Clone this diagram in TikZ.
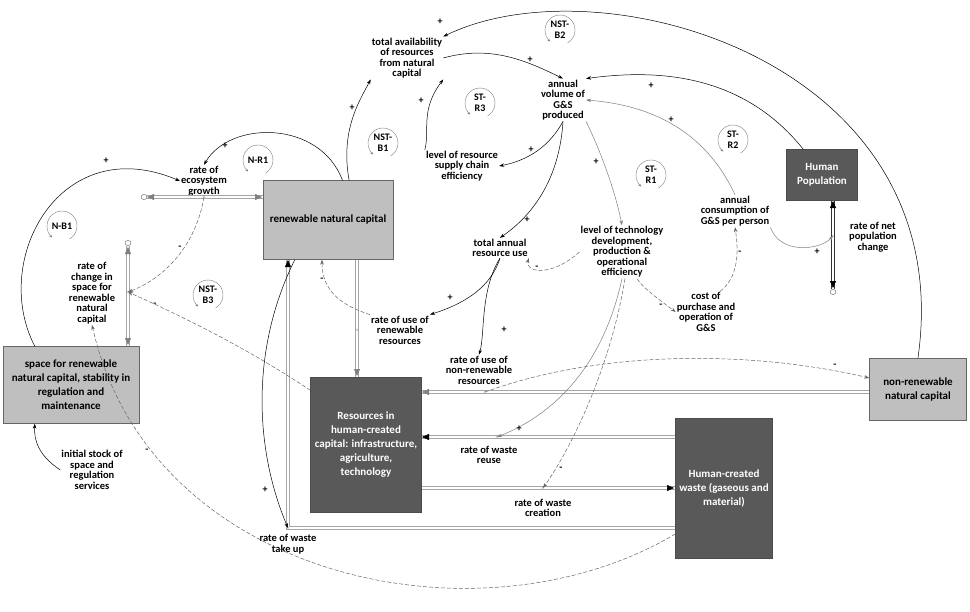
\documentclass[tikz,border=0pt]{standalone}
\usepackage{fontspec}
\setmainfont{Carlito}
\usetikzlibrary{arrows.meta,shapes.geometric}
\begin{document}
\begin{tikzpicture}[x=1pt,y=-1pt,
  var/.style={font=\bfseries\fontsize{10.5}{10.5}\selectfont,align=center,inner sep=1pt},
  lstock/.style={draw=gray!80!black,fill=gray!50,font=\bfseries\fontsize{11}{14}\selectfont,align=center},
  dstock/.style={draw=gray!60!black,fill=black!65,text=white,font=\bfseries\fontsize{11}{14}\selectfont,align=center},
  cl/.style={-{Stealth[length=5pt,width=3.5pt]},line width=0.5pt},
  gl/.style={cl,gray},
  dl/.style={cl,gray!80!black,dash pattern=on 4pt off 2pt},
  flow/.style={draw=gray!70,double=white,double distance=2.2pt,line width=0.6pt},
  gtip/.style={-{Triangle[length=7pt,width=6pt]},draw=gray,fill=gray,line width=0.5pt},
  btip/.style={-{Triangle[length=7pt,width=6pt]},draw=black,line width=0.5pt},
  sg/.style={font=\bfseries\fontsize{10}{10}\selectfont,inner sep=0pt},
  cloud/.style={draw=gray!60!black,ellipse,minimum width=6pt,minimum height=5pt,inner sep=0pt},
  loop/.style={font=\bfseries\fontsize{10}{11}\selectfont,align=center,inner sep=0pt}]
\useasboundingbox (0,0) rectangle (970,611);
\fill[white] (0,0) rectangle (970,611);
% stocks
\node[lstock,minimum width=130pt,minimum height=79pt] (rnc) at (328,220) {renewable natural capital};
\node[lstock,minimum width=136pt,minimum height=77pt] (space) at (71,385) {space for renewable\\natural capital, stability in\\regulation and\\maintenance};
\node[dstock,minimum width=111pt,minimum height=135pt] (res) at (366,445) {Resources in\\human-created\\capital: infrastructure,\\agriculture,\\technology};
\node[dstock,minimum width=97pt,minimum height=140pt] (waste) at (724,488) {Human-created\\waste (gaseous and\\material)};
\node[dstock,minimum width=71pt,minimum height=51pt] (pop) at (822,175) {Human\\Population};
\node[lstock,minimum width=97pt,minimum height=62pt] (nonren) at (918,389) {non-renewable\\natural capital};
% variables
\node[var] (tav) at (407,58) {total availability\\of resources\\from natural\\capital};
\node[var] (vol) at (563,100) {annual\\volume of\\G\&S\\produced};
\node[var] (sup) at (462,166) {level of resource\\supply chain\\efficiency};
\node[var] (eco) at (204,181) {rate of\\ecosystem\\growth};
\node[var] (chg) at (92,293) {rate of\\change in\\space for\\renewable\\natural\\capital};
\node[var] (tuse) at (500,248) {total annual\\resource use};
\node[var] (tech) at (622,252) {level of technology\\development,\\production \&\\operational\\efficiency};
\node[var] (cons) at (735,211) {annual\\consumption of\\G\&S per person};
\node[var] (npop) at (873,237) {rate of net\\population\\change};
\node[var] (cost) at (706,312) {cost of\\purchase and\\operation of\\G\&S};
\node[var] (ruse) at (400,330) {rate of use of\\renewable\\resources};
\node[var] (rnon) at (479,370) {rate of use of\\non-renewable\\resources};
\node[var] (wreu) at (489,455) {rate of waste\\reuse};
\node[var] (wcre) at (543,508) {rate of waste\\creation};
\node[var] (wtak) at (288,544) {rate of waste\\take up};
\node[var] (init) at (92,470) {initial stock of\\space and\\regulation\\services};
% loop markers
\foreach \n/\x/\y/\t in {lb2/560/30/{NST-\\B2},lr3/480/103/{ST-\\R3},lb1/383/143/{NST-\\B1},lnr1/258/160/{N-R1},lnb1/62/226/{N-B1},lb3/208/295/{NST-\\B3},lsr1/651/175/{ST-\\R1},lsr2/733/140/{ST-\\R2}}{
  \node[loop] (\n) at (\x,\y) {\t};
  \draw[gray,-{Stealth[length=3pt,width=2.5pt]}] ([shift={(60:15)}]\n.center) arc (60:-230:15);
}
% clouds and valves
\node[cloud] (c1) at (144,197) {};
\node[cloud] (c2) at (128,243) {};
\node[cloud] (c3) at (833,292) {};
\coordinate (v1) at (204,197);
\coordinate (v2) at (128,292);
\coordinate (v3) at (357,330);
\coordinate (v4) at (485,392);
\coordinate (v5) at (497,437);
\coordinate (v6) at (543,488);
\coordinate (v7) at (288,528);
\coordinate (v8) at (833,236);
% flows
\draw[flow] (c1) -- (rnc.west |- c1);
\draw[gtip] (150,197) -- (147,197);
\draw[gtip] (255,197) -- (262,197);
\draw[flow] (c2) -- (space.north -| c2);
\draw[gtip] (128,252) -- (128,247);
\draw[gtip] (128,338) -- (128,345);
\draw[flow] (rnc.south -| v3) -- (res.north -| v3);
\draw[gtip] (357,370) -- (357,376);
\draw[flow] (nonren.west |- v4) -- (res.east |- v4);
\draw[gtip] (428,392) -- (422,392);
\draw[flow] (waste.west |- v5) -- (res.east |- v5);
\draw[btip] (428,437) -- (422,437);
\draw[flow] (res.east |- v6) -- (waste.west |- v6);
\draw[btip] (668,488) -- (674,488);
\draw[flow] (waste.west |- v7) -- (v7) -- (rnc.south -| v7);
\draw[btip] (288,266) -- (288,260);
\draw[flow,draw=gray!40!black] (pop.south -| v8) -- (c3);
\draw[btip] (833,207) -- (833,201);
\draw[btip] (833,282) -- (833,288);
\foreach \v in {v1,v2,v3,v4,v5,v6,v7,v8}{\node[inner sep=0pt,font=\tiny,gray] at (\v) {$\times$};}
% causal links
\draw[cl] (rnc.62) .. controls (340,130) and (360,100) .. (tav.south west); \node[sg] at (352,108) {+};
\draw[cl] (rnc.70) .. controls (320,120) and (230,120) .. (eco.north); \node[sg] at (225,146) {+};
\draw[cl] ([xshift=32pt]space.north west) .. controls (-10,260) and (60,130) .. (eco.west); \node[sg] at (106,161) {+};
\draw[cl] (tav.east) .. controls (490,45) and (525,60) .. (vol.north); \node[sg] at (530,60) {+};
\draw[cl] (sup.north west) .. controls (430,130) and (420,110) .. (tav.south east); \node[sg] at (421,101) {+};
\draw[cl] (nonren.north) .. controls (960,60) and (600,-40) .. (tav.north east); \node[sg] at (440,22) {+};
\draw[cl] ([xshift=17pt]pop.north west) .. controls (740,70) and (650,70) .. (vol.north east); \node[sg] at (651,86) {+};
\draw[gl] (cons.north) .. controls (705,130) and (650,105) .. (vol.east); \node[sg] at (671,120) {+};
\draw[cl] (vol.south) .. controls (550,145) and (530,160) .. (sup.east); \node[sg] at (531,150) {+};
\draw[cl] (vol.south) .. controls (560,170) and (540,210) .. (tuse.north); \node[sg] at (527,220) {+};
\draw[gl] (vol.south east) .. controls (600,150) and (615,190) .. (tech.north); \node[sg] at (596,162) {+};
\draw[dl] (tech.west) .. controls (550,278) and (525,272) .. (tuse.south east); \node[sg] at (537,268) {-};
\draw[dl] ([xshift=15pt]tech.south) .. controls (645,290) and (660,300) .. (cost.west); \node[sg] at (661,306) {-};
\draw[dl] ([xshift=14pt]cost.north) .. controls (735,280) and (740,260) .. (cons.south); \node[sg] at (740,253) {-};
\draw[gl] (cons.south east) .. controls (780,255) and (820,250) .. (v8); \node[sg] at (817,252) {+};
\draw[cl] (tuse.south) .. controls (490,290) and (460,305) .. (ruse.north east); \node[sg] at (450,298) {+};
\draw[cl] (tuse.south) .. controls (480,290) and (485,335) .. (rnon.north); \node[sg] at (504,330) {+};
\draw[gl] (tech.south) .. controls (600,380) and (540,420) .. (v5); \node[sg] at (519,429) {+};
\draw[dl] ([xshift=3pt]tech.south) .. controls (610,370) and (570,450) .. (v6); \node[sg] at (561,469) {-};
\draw[dl] (ruse.north west) .. controls (340,305) and (322,290) .. ([xshift=-6pt]rnc.south); \node[sg] at (322,280) {-};
\draw[dl] (v1) .. controls (195,250) and (160,280) .. (v2); \node[sg] at (180,248) {-};
\draw[dl] ([yshift=-13pt]res.north west) .. controls (250,350) and (190,320) .. (v2); \node[sg] at (155,305) {-};
\draw[dl] ([yshift=-46pt]waste.west) .. controls (480,650) and (150,580) .. (chg.south); \node[sg] at (147,451) {-};
\draw[dl] (v4) .. controls (600,350) and (750,350) .. ([yshift=11pt]nonren.west); \node[sg] at (835,366) {-};
\draw[cl] (init.west) .. controls (38,455) and (34,440) .. ([xshift=32pt]space.south west);
\draw[cl] ([xshift=32pt]rnc.south west) .. controls (250,350) and (255,450) .. (v7); \node[sg] at (265,490) {+};
\end{tikzpicture}
\end{document}
